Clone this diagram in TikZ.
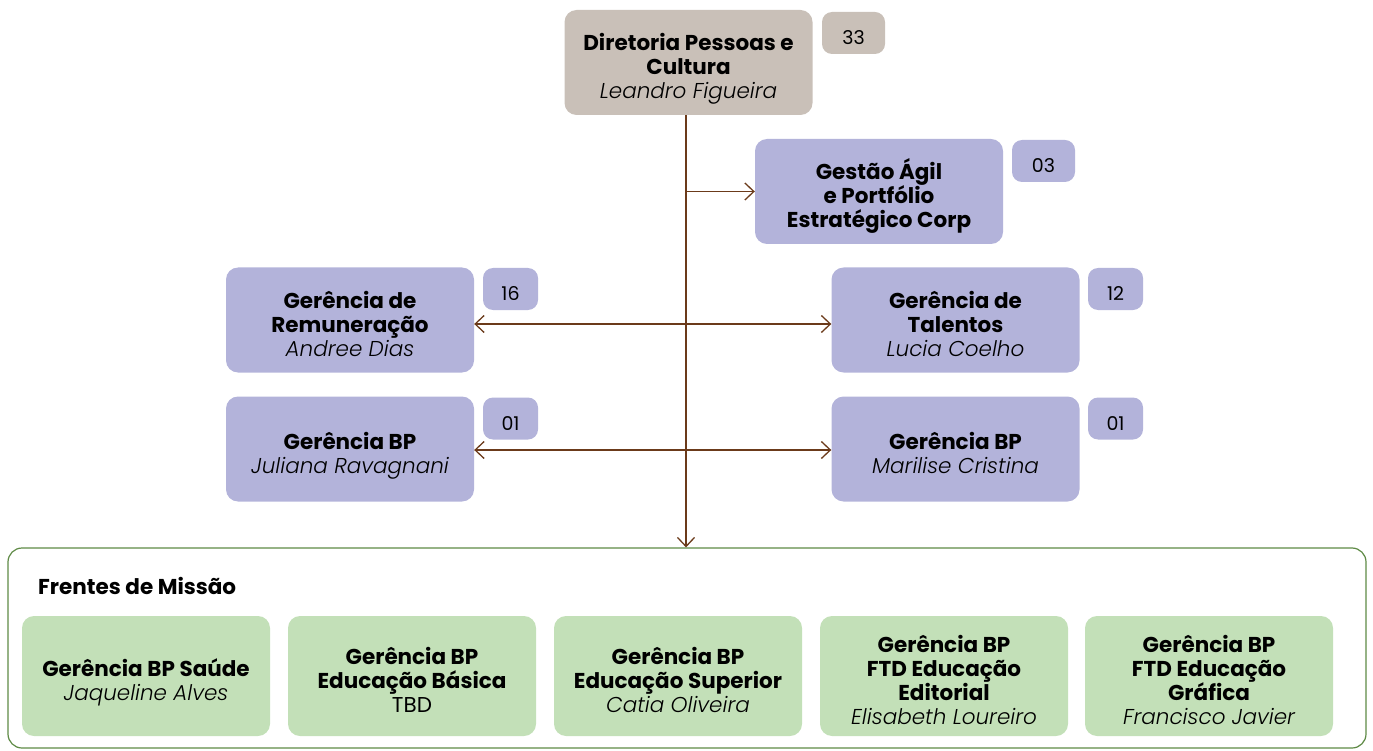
\documentclass[tikz,border=0pt]{standalone}
\usepackage{fontspec}
\setmainfont{Poppins}[ItalicFont={Poppins Light Italic}]
\usetikzlibrary{arrows.meta}
\definecolor{taupe}{RGB}{201,192,184}
\definecolor{lavender}{RGB}{179,179,218}
\definecolor{mint}{RGB}{195,224,184}
\definecolor{brownline}{RGB}{107,58,26}
\definecolor{greenline}{RGB}{94,138,69}
\newcommand\person[1]{{\mdseries\itshape #1}}

\begin{document}
\begin{tikzpicture}[x=1pt,y=-1pt,
    box/.style={rounded corners=12pt,minimum width=248pt,minimum height=105pt,
      align=center,inner sep=0pt,font=\fontsize{21.5}{24}\selectfont\bfseries,
      text depth=0pt,text height=73pt},
    two/.style={text height=49pt},
    four/.style={text height=97pt},
    count/.style={rounded corners=10pt,minimum width=55pt,minimum height=42pt,
      inner sep=0pt,font=\fontsize{19}{24}\selectfont,text depth=0pt,text height=23pt},
    link/.style={draw=brownline,line width=1.3pt,
      arrows={-Straight Barb[length=9pt,width=17pt,line width=1.3pt]}},
    both/.style={link,arrows={Straight Barb[length=9pt,width=17pt,line width=1.3pt]-Straight Barb[length=9pt,width=17pt,line width=1.3pt]}}]
    \useasboundingbox (0,0) rectangle (1373,751);
    \coordinate (spine) at (686,0);

    \node[box,fill=taupe] (dir) at (688.5,62.5) {Diretoria Pessoas e\\Cultura\\\person{Leandro Figueira}};
    \node[count,fill=taupe,minimum width=63pt] (dirn) at (853.5,33) {33};

    \node[box,fill=lavender] (agil) at (879,191.5) {Gestão Ágil\\e Portfólio\\Estratégico Corp};
    \node[count,fill=lavender,minimum width=63pt] (agiln) at (1043.5,161) {03};

    \node[box,fill=lavender] (rem) at (350,320) {Gerência de\\Remuneração\\\person{Andree Dias}};
    \node[count,fill=lavender] (remn) at (510.5,289) {16};
    \node[box,fill=lavender] (tal) at (955.5,320) {Gerência de\\Talentos\\\person{Lucia Coelho}};
    \node[count,fill=lavender] (taln) at (1115.5,289) {12};

    \node[box,two,fill=lavender] (bpj) at (350,449) {Gerência BP\\\person{Juliana Ravagnani}};
    \node[count,fill=lavender] (bpjn) at (510.5,418.5) {01};
    \node[box,two,fill=lavender] (bpm) at (955.5,449) {Gerência BP\\\person{Marilise Cristina}};
    \node[count,fill=lavender] (bpmn) at (1115.5,418.5) {01};

    % frentes de missao
    \node[draw=greenline,line width=1.2pt,rounded corners=14pt,minimum width=1358pt,
      minimum height=200pt,inner sep=0pt] (frentes) at (687,648) {};
    \node[anchor=base west,inner sep=0pt,font=\fontsize{21.5}{24}\selectfont\bfseries] (frenteslabel)
      at (38,594) {Frentes de Missão};

    \node[box,two,fill=mint,minimum height=120pt] (saude) at (146,676) {Gerência BP Saúde\\\person{Jaqueline Alves}};
    \node[box,fill=mint,minimum height=120pt] (basica) at (412,676) {Gerência BP\\Educação Básica\\{\mdseries TBD}};
    \node[box,fill=mint,minimum height=120pt] (superior) at (678,676) {Gerência BP\\Educação Superior\\\person{Catia Oliveira}};
    \node[box,four,fill=mint,minimum height=120pt] (editorial) at (944,676) {Gerência BP\\FTD Educação\\Editorial\\\person{Elisabeth Loureiro}};
    \node[box,four,fill=mint,minimum height=120pt] (grafica) at (1209,676) {Gerência BP\\FTD Educação\\Gráfica\\\person{Francisco Javier}};

    \draw[link] (dir.south -| spine) -- (frentes.north -| spine);
    \draw[link] (agil.west -| spine) -- (agil.west);
    \draw[both] ([yshift=-4pt]rem.east) -- ([yshift=-4pt]tal.west);
    \draw[both] ([yshift=-1pt]bpj.east) -- ([yshift=-1pt]bpm.west);
\end{tikzpicture}
\end{document}
